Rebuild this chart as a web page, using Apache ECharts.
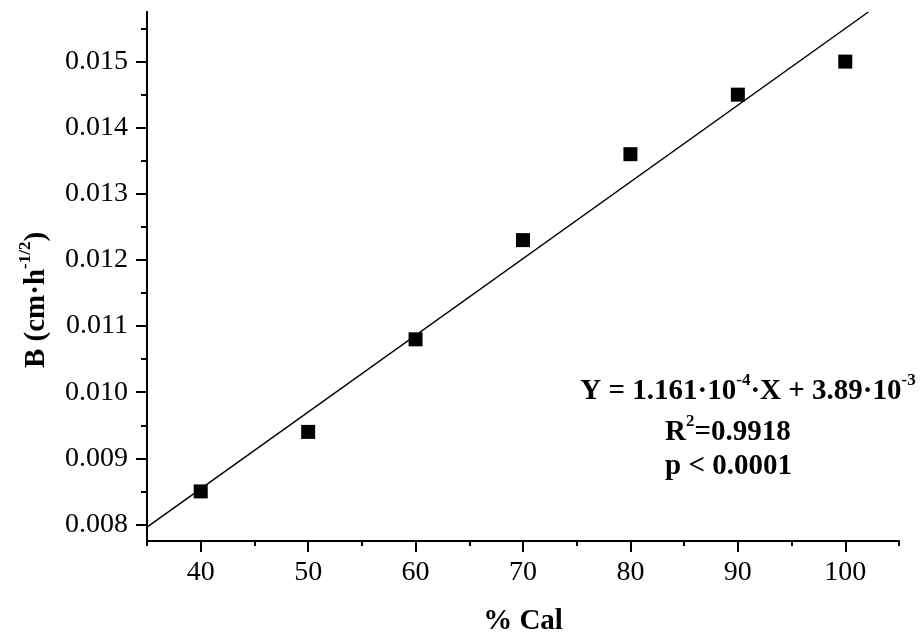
<!DOCTYPE html>
<html>
<head>
<meta charset="utf-8">
<script src="https://cdn.jsdelivr.net/npm/echarts@6/dist/echarts.min.js"></script>
<style>
  html, body { margin: 0; padding: 0; background: #fff; }
  #main { width: 920px; height: 642px; }
</style>
</head>
<body>
<div id="main"></div>
<script>
// data
var pctCal = [40, 50, 60, 70, 80, 90, 100]
var bValues = [0.0085, 0.0094, 0.0108, 0.0123, 0.0136, 0.0145, 0.0150]
// fitted line end points
var fitX = [35, 102.15]
var fitY = [0.00796, 0.01575]
// ticks
var xMajor = [40, 50, 60, 70, 80, 90, 100]
var xMinor = [35, 45, 55, 65, 75, 85, 95, 105]
var yMajor = [0.008, 0.009, 0.010, 0.011, 0.012, 0.013, 0.014, 0.015]
var yMinor = [0.0085, 0.0095, 0.0105, 0.0115, 0.0125, 0.0135, 0.0145, 0.0155]

var font = 'Liberation Serif'
var mychart = echarts.init(document.getElementById('main'))

var axisLine = { lineStyle: { color: '#000', width: 2 } }

var option = {
  animation: false,
  grid: { left: 147, right: 21, top: 12, bottom: 101 },
  xAxis: [{
    type: 'value', min: 35, max: 105,
    position: 'bottom',
    name: '% Cal', nameLocation: 'middle', nameGap: 66,
    nameTextStyle: { fontFamily: font, fontSize: 29, fontWeight: 'bold', color: '#000' },
    axisLine: axisLine,
    axisTick: { customValues: xMajor, length: 11, lineStyle: { color: '#000', width: 2 } },
    axisLabel: { customValues: xMajor, fontFamily: font, fontSize: 28, color: '#000', margin: 18 },
    splitLine: { show: false }
  }, {
    // minor ticks
    type: 'value', min: 35, max: 105,
    position: 'bottom', offset: 0,
    axisLine: axisLine,
    axisTick: { customValues: xMinor, length: 5, lineStyle: { color: '#000', width: 2 } },
    axisLabel: { show: false },
    splitLine: { show: false }
  }],
  yAxis: [{
    type: 'value', min: 0.00775, max: 0.01575,
    position: 'left',
    axisLine: axisLine,
    axisTick: { customValues: yMajor, length: 11, lineStyle: { color: '#000', width: 2 } },
    axisLabel: {
      customValues: yMajor, fontFamily: font, fontSize: 28, color: '#000', margin: 19,
      formatter: function (v) { return v.toFixed(3) }
    },
    splitLine: { show: false }
  }, {
    type: 'value', min: 0.00775, max: 0.01575,
    position: 'left', offset: 0,
    axisLine: axisLine,
    axisTick: { customValues: yMinor, length: 6, lineStyle: { color: '#000', width: 2 } },
    axisLabel: { show: false },
    splitLine: { show: false }
  }],
  series: [{
    type: 'line',
    data: [[fitX[0], fitY[0]], [fitX[1], fitY[1]]],
    symbol: 'none',
    lineStyle: { color: '#000', width: 1.5 },
    z: 2
  }, {
    type: 'scatter',
    data: pctCal.map(function (x, i) { return [x, bValues[i]] }),
    symbol: 'rect',
    symbolSize: 14,
    itemStyle: { color: '#000', opacity: 1 },
    z: 3
  }],
  graphic: [{
    // y axis title
    type: 'text', x: 37, y: 300, rotation: Math.PI / 2,
    style: {
      text: '{m|B (cm·h}{s|-1/2}{m|)}',
      align: 'center', verticalAlign: 'middle',
      rich: {
        m: { fontFamily: font, fontSize: 29, fontWeight: 'bold', fill: '#000', lineHeight: 40 },
        s: { fontFamily: font, fontSize: 17, fontWeight: 'bold', fill: '#000', lineHeight: 12, verticalAlign: 'top' }
      }
    }
  }, {
    type: 'text', x: 748, y: 392,
    style: {
      text: '{m|Y = 1.161·10}{s|-4}{m|·X + 3.89·10}{s|-3}',
      align: 'center', verticalAlign: 'middle',
      rich: {
        m: { fontFamily: font, fontSize: 29, fontWeight: 'bold', fill: '#000', lineHeight: 40 },
        s: { fontFamily: font, fontSize: 17, fontWeight: 'bold', fill: '#000', lineHeight: 12, verticalAlign: 'top' }
      }
    }
  }, {
    type: 'text', x: 665, y: 433,
    style: {
      text: '{m|R}{s|2}{m|=0.9918}',
      align: 'left', verticalAlign: 'middle',
      rich: {
        m: { fontFamily: font, fontSize: 29, fontWeight: 'bold', fill: '#000', lineHeight: 40 },
        s: { fontFamily: font, fontSize: 17, fontWeight: 'bold', fill: '#000', lineHeight: 12, verticalAlign: 'top' }
      }
    }
  }, {
    type: 'text', x: 665, y: 467,
    style: {
      text: 'p < 0.0001',
      align: 'left', verticalAlign: 'middle',
      font: 'bold 29px "Liberation Serif"',
      fill: '#000'
    }
  }]
}
mychart.setOption(option)
</script>
</body>
</html>
